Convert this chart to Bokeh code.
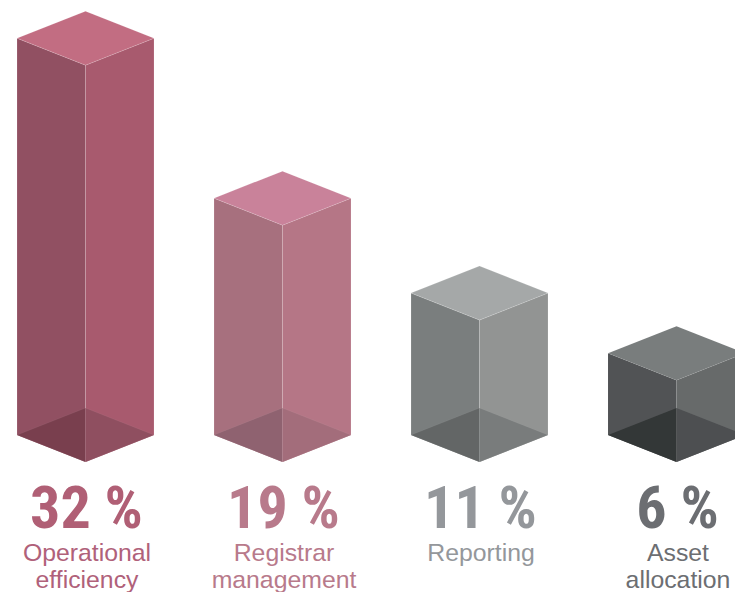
from bokeh.plotting import figure
from bokeh.models import Range1d, ColumnDataSource
from bokeh.embed import file_html
from bokeh.resources import INLINE
from bokeh.core.properties import value

# Data
percent_labels = ["32 %", "19 %", "11 %", "6 %"]
label_line1 = ["Operational", "Registrar", "Reporting", "Asset"]
label_line2 = ["efficiency", "management", "", "allocation"]
bar_values = [32.0, 19.1, 11.45, 6.6]

# Styles
top_colors = ["#C26D82", "#C9829A", "#A5A8A8", "#797D7D"]
left_colors = ["#915062", "#A7707E", "#7A7E7E", "#515355"]
right_colors = ["#A85A6E", "#B57686", "#929493", "#676A6A"]
floor_left_colors = ["#793F4E", "#8F6270", "#636666", "#333737"]
floor_right_colors = ["#8F4F60", "#A36D7B", "#797C7C", "#4D4F51"]
text_colors = ["#B05F75", "#B87A8B", "#94979B", "#6C6E72"]
label_colors = ["#B0617A", "#B87A8B", "#94979B", "#6C6E72"]
edge_alpha = [0.18, 0.18, 0.18, 0.05]

W, H = 735, 592
PX_X = 197.0   # px per category step
PX_Y = 12.4    # px per percent
HALF = 68.5 / PX_X
DEPTH = 27.0 / PX_Y

p = figure(width=W, height=H, output_backend="svg", toolbar_location=None,
           x_range=Range1d((0.5 - 85.5) / PX_X, (735.5 - 85.5) / PX_X),
           y_range=Range1d((461.5 - 592) / PX_Y, (461.5 - 0) / PX_Y),
           min_border=0, background_fill_color="white", border_fill_color="white")
p.axis.visible = False
p.grid.visible = False
p.outline_line_color = None


def faces(i, v):
    c = float(i)
    fb = 2 * DEPTH  # front-to-back span
    return dict(
        floor_left=([c - HALF, c, c], [DEPTH, 0, fb]),
        floor_right=([c, c + HALF, c], [0, DEPTH, fb]),
        left=([c - HALF, c, c, c - HALF], [DEPTH, 0, v, v + DEPTH]),
        right=([c, c + HALF, c + HALF, c], [0, DEPTH, v + DEPTH, v]),
        top=([c - HALF, c, c + HALF, c], [v + DEPTH, v, v + DEPTH, v + fb]),
    )


for i, v in enumerate(bar_values):
    f = faces(i, v)
    a = edge_alpha[i]
    p.patch(*f["left"], fill_color=left_colors[i], line_color="white", line_alpha=a, line_width=0.8)
    p.patch(*f["right"], fill_color=right_colors[i], line_color="white", line_alpha=a, line_width=0.8)
    p.patch(*f["floor_left"], fill_color=floor_left_colors[i], line_color="white", line_alpha=a / 2, line_width=0.6)
    p.patch(*f["floor_right"], fill_color=floor_right_colors[i], line_color="white", line_alpha=a / 2, line_width=0.6)
    p.patch(*f["top"], fill_color=top_colors[i], line_color="white", line_alpha=a, line_width=0.8)

xs = list(range(len(percent_labels)))
src = ColumnDataSource(dict(x=xs, y=[0] * 4, pct=percent_labels, l1=label_line1, l2=label_line2,
                            tc=text_colors, lc=label_colors))
p.text("x", "y", text="pct", source=src, text_color="tc", text_font=value("Roboto Condensed"),
       text_font_style="bold", text_font_size="60px", text_align="center",
       text_baseline="alphabetic", y_offset=45, x_offset=1)
p.text("x", "y", text="l1", source=src, text_color="lc", text_font=value("Liberation Sans"),
       text_font_size="24.8px", text_align="center", text_baseline="alphabetic", y_offset=90, x_offset=1.5)
p.text("x", "y", text="l2", source=src, text_color="lc", text_font=value("Liberation Sans"),
       text_font_size="24.8px", text_align="center", text_baseline="alphabetic", y_offset=117, x_offset=1.5)

open("out.html", "w").write(file_html(p, INLINE))
